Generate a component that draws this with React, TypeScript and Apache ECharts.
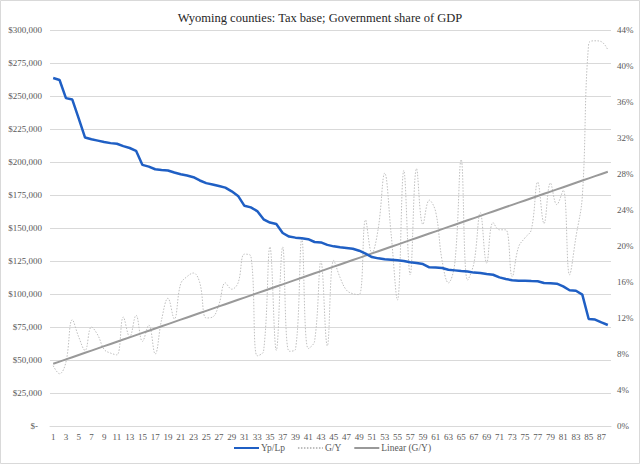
import React, { useEffect, useRef } from "react";
import * as echarts from "echarts";

const CATEGORIES: string[] = [
  "1","2","3","4","5","6","7","8","9","10","11","12","13","14","15","16","17","18","19","20",
  "21","22","23","24","25","26","27","28","29","30","31","32","33","34","35","36","37","38","39","40",
  "41","42","43","44","45","46","47","48","49","50","51","52","53","54","55","56","57","58","59","60",
  "61","62","63","64","65","66","67","68","69","70","71","72","73","74","75","76","77","78","79","80",
  "81","82","83","84","85","86","87","88",
];

// Yp/Lp (left axis, dollars)
const YP_LP: number[] = [
  263600, 262100, 248400, 247300, 233000, 218500, 217200, 216200, 215200, 214300,
  213800, 212000, 210600, 208500, 197800, 196500, 194500, 194000, 193600, 192000,
  190700, 189800, 188500, 186000, 184000, 183000, 181800, 180600, 177800, 174300,
  166800, 165600, 162800, 156600, 154100, 153000, 146200, 143500, 142700, 142200,
  141500, 139400, 139100, 137200, 136100, 135400, 134900, 134300, 132800, 130600,
  128000, 127000, 126300, 126000, 125500, 125000, 124000, 123500, 122700, 120200,
  120000, 119700, 118400, 117900, 117400, 117000, 116200, 115900, 115200, 114600,
  112600, 111400, 110400, 110100, 110100, 109800, 109600, 108300, 108100, 107800,
  105800, 102800, 102500, 99500, 81100, 80600, 78500, 76500,
];

// G/Y (right axis, percent)
const G_Y: number[] = [
  6.7, 5.8, 7.1, 11.8, 9.9, 8.4, 11.0, 10.1, 8.5, 8.1,
  7.9, 12.1, 9.9, 12.3, 9.4, 11.2, 8.0, 11.8, 14.2, 11.9,
  15.8, 16.6, 17.0, 15.9, 12.0, 12.1, 13.5, 15.9, 15.2, 15.9,
  19.1, 18.9, 7.8, 8.3, 19.9, 8.4, 19.9, 8.3, 8.5, 20.8,
  8.6, 9.4, 18.3, 8.9, 18.4, 16.5, 15.1, 14.7, 14.6, 22.9,
  19.2, 22.0, 28.1, 21.4, 14.0, 28.4, 16.8, 28.6, 22.4, 25.1,
  23.8, 18.4, 15.9, 18.1, 29.6, 16.2, 18.1, 23.7, 18.1, 22.6,
  21.8, 21.8, 16.6, 19.9, 20.9, 21.8, 27.1, 22.5, 27.0, 24.6,
  26.2, 16.8, 21.0, 25.5, 42.5, 42.8, 42.7, 41.8,
];

const LEFT_TICKS = { min: 0, max: 300000, interval: 25000 };
const RIGHT_TICKS = { min: 0, max: 44, interval: 4 };

const TITLE = "Wyoming counties: Tax base; Government share of GDP";
const FONT = "'Liberation Serif', 'DejaVu Serif', serif";

function linearTrend(values: number[]): number[] {
  const n = values.length;
  let sx = 0, sy = 0, sxx = 0, sxy = 0;
  for (let i = 0; i < n; i++) {
    const x = i + 1;
    sx += x; sy += values[i]; sxx += x * x; sxy += x * values[i];
  }
  const slope = (n * sxy - sx * sy) / (n * sxx - sx * sx);
  const intercept = (sy - slope * sx) / n;
  return values.map((_, i) => intercept + slope * (i + 1));
}

export default function App() {
  const ref = useRef<HTMLDivElement>(null);
  useEffect(() => {
    if (!ref.current) return;
    const chart = echarts.init(ref.current, undefined, { renderer: "svg" });
    const trend = linearTrend(G_Y);
    chart.setOption({
      animation: false,
      backgroundColor: "#ffffff",
      textStyle: { fontFamily: FONT },
      title: {
        text: TITLE,
        left: "center",
        top: 6,
        textStyle: { fontFamily: FONT, fontSize: 12.5, fontWeight: "normal", color: "#262626" },
      },
      graphic: [
        {
          type: "rect",
          shape: { x: 0.5, y: 0.5, width: 639, height: 463 },
          style: { fill: "none", stroke: "#d9d9d9", lineWidth: 1 },
          silent: true,
          z: -1,
        },
      ],
      grid: { left: 50, right: 29, top: 30, bottom: 38 },
      legend: {
        bottom: 6,
        left: 228,
        itemWidth: 25,
        itemHeight: 8,
        itemGap: 12,
        itemStyle: { opacity: 0 },
        textStyle: { fontFamily: FONT, fontSize: 9.5, color: "#595959", padding: [0, 0, 0, -3] },
        data: ["Yp/Lp", "G/Y", "Linear (G/Y)"],
      },
      xAxis: {
        type: "category",
        data: CATEGORIES,
        boundaryGap: true,
        axisLine: { lineStyle: { color: "#d9d9d9", width: 1 } },
        axisTick: { show: false },
        axisLabel: { interval: 1, fontFamily: FONT, fontSize: 9, color: "#595959", margin: 6 },
      },
      yAxis: [
        {
          type: "value",
          min: LEFT_TICKS.min,
          max: LEFT_TICKS.max,
          interval: LEFT_TICKS.interval,
          axisLine: { show: false },
          axisTick: { show: false },
          splitLine: { lineStyle: { color: "#d9d9d9", width: 1 } },
          axisLabel: {
            fontFamily: FONT,
            fontSize: 9,
            color: "#595959",
            margin: 8,
            formatter: (v: number) =>
              v === 0 ? "{z|$-}" : "$" + v.toLocaleString("en-US"),
            rich: { z: { fontFamily: FONT, fontSize: 9, color: "#595959", padding: [0, 4, 0, 0] } },
          },
        },
        {
          type: "value",
          min: RIGHT_TICKS.min,
          max: RIGHT_TICKS.max,
          interval: RIGHT_TICKS.interval,
          position: "right",
          axisLine: { show: false },
          axisTick: { show: false },
          splitLine: { show: false },
          axisLabel: {
            fontFamily: FONT,
            fontSize: 9,
            color: "#595959",
            margin: 6,
            formatter: (v: number) => v + "%",
          },
        },
      ],
      series: [
        {
          name: "Yp/Lp",
          type: "line",
          yAxisIndex: 0,
          data: YP_LP,
          symbol: "none",
          lineStyle: { color: "#1f5fc4", width: 2.5 },
          itemStyle: { color: "#1f5fc4" },
          z: 4,
        },
        {
          name: "G/Y",
          type: "line",
          yAxisIndex: 1,
          data: G_Y,
          symbol: "none",
          smooth: 0.4,
          lineStyle: { color: "#bfbfbf", width: 1, type: [1.5, 1.5] },
          itemStyle: { color: "#bfbfbf" },
          z: 2,
        },
        {
          name: "Linear (G/Y)",
          type: "line",
          yAxisIndex: 1,
          data: trend,
          symbol: "none",
          lineStyle: { color: "#999999", width: 2 },
          itemStyle: { color: "#999999" },
          z: 3,
        },
      ],
    });
    return () => chart.dispose();
  }, []);
  return (
    <div
      ref={ref}
      style={{ position: "fixed", left: 0, top: 0, width: 640, height: 464 }}
    />
  );
}
